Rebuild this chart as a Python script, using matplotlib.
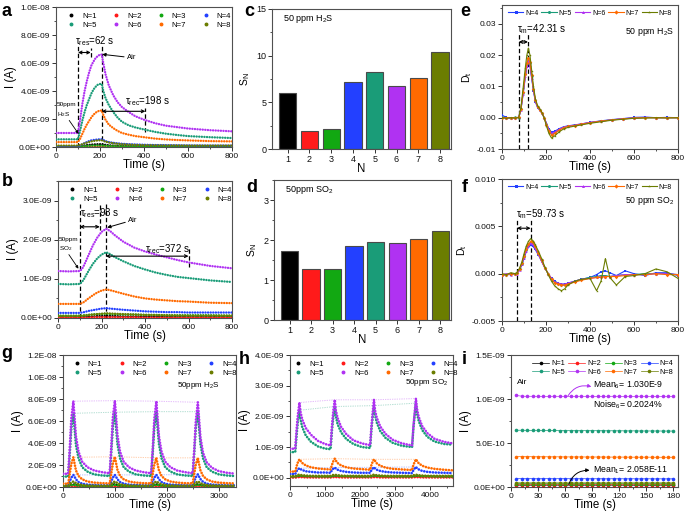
import numpy as np
import matplotlib
matplotlib.use('Agg')
import matplotlib.pyplot as plt
from matplotlib.ticker import FuncFormatter, MultipleLocator
from matplotlib.lines import Line2D

plt.rcParams['font.family'] = ['Liberation Sans', 'DejaVu Sans']
plt.rcParams['mathtext.fontset'] = 'custom'
plt.rcParams['mathtext.rm'] = 'Liberation Sans'
plt.rcParams['mathtext.it'] = 'Liberation Sans:italic'
plt.rcParams['mathtext.bf'] = 'Liberation Sans:bold'

# ---------------- data ----------------
labels_N = ['N=1', 'N=2', 'N=3', 'N=4', 'N=5', 'N=6', 'N=7', 'N=8']
colors = ['#000000', '#ff1a1a', '#12a812', '#2340ff', '#1a9c78', '#b032f2', '#ff6a00', '#6b7d00']

# panel a: H2S response (units 1e-9 A)
t_a = [0, 50, 100, 110, 120, 130, 140, 150, 160, 170, 180, 190, 200, 208, 215, 225, 240, 260, 280, 300,
       330, 360, 400, 450, 500, 550, 600, 700, 800]
a_N1 = [0.03, 0.03, 0.03, 0.05, 0.08, 0.11, 0.13, 0.15, 0.17, 0.18, 0.19, 0.2, 0.2, 0.2, 0.18, 0.15, 0.12, 0.1,
        0.08, 0.07, 0.06, 0.05, 0.05, 0.04, 0.04, 0.04, 0.04, 0.04, 0.04]
a_N2 = [0.01, 0.01, 0.01, 0.02, 0.03, 0.03, 0.04, 0.04, 0.05, 0.05, 0.05, 0.05, 0.05, 0.05, 0.05, 0.04, 0.04, 0.03,
        0.03, 0.02, 0.02, 0.02, 0.02, 0.02, 0.01, 0.01, 0.01, 0.01, 0.01]
a_N3 = [0.02, 0.02, 0.02, 0.03, 0.05, 0.06, 0.07, 0.08, 0.09, 0.1, 0.1, 0.1, 0.1, 0.1, 0.09, 0.08, 0.07, 0.06,
        0.05, 0.05, 0.04, 0.04, 0.03, 0.03, 0.03, 0.03, 0.03, 0.03, 0.03]
a_N4 = [0.05, 0.05, 0.05, 0.12, 0.2, 0.28, 0.35, 0.42, 0.47, 0.5, 0.52, 0.54, 0.55, 0.55, 0.5, 0.42, 0.35, 0.3,
        0.26, 0.23, 0.2, 0.18, 0.16, 0.14, 0.13, 0.12, 0.11, 0.1, 0.1]
a_N5 = [0.55, 0.55, 0.55, 1.2, 1.9, 2.5, 3.0, 3.4, 3.8, 4.1, 4.3, 4.45, 4.5, 4.5, 4.0, 3.5, 3.0, 2.5,
        2.1, 1.8, 1.55, 1.4, 1.25, 1.08, 0.95, 0.86, 0.78, 0.7, 0.64]
a_N6 = [1.0, 1.0, 1.0, 2.0, 3.1, 4.0, 4.7, 5.3, 5.8, 6.1, 6.35, 6.5, 6.6, 6.6, 6.0, 5.2, 4.4, 3.7,
        3.2, 2.85, 2.5, 2.2, 1.95, 1.7, 1.52, 1.42, 1.32, 1.2, 1.12]
a_N7 = [0.35, 0.35, 0.35, 0.6, 0.95, 1.3, 1.6, 1.85, 2.1, 2.3, 2.45, 2.55, 2.6, 2.6, 2.3, 1.95, 1.6, 1.35,
        1.15, 1.0, 0.88, 0.78, 0.7, 0.6, 0.54, 0.5, 0.47, 0.42, 0.4]
a_N8 = [0.1, 0.1, 0.1, 0.15, 0.2, 0.26, 0.31, 0.36, 0.4, 0.43, 0.45, 0.47, 0.48, 0.48, 0.44, 0.38, 0.32, 0.27,
        0.23, 0.2, 0.17, 0.15, 0.13, 0.12, 0.11, 0.11, 0.1, 0.1, 0.1]

# panel b: SO2 response (units 1e-9 A)
t_b = [0, 50, 100, 110, 120, 140, 160, 180, 200, 222, 240, 260, 300, 350, 400, 450, 500, 550, 600, 700, 800]
b_N1 = [0.03, 0.03, 0.03, 0.03, 0.03, 0.04, 0.04, 0.05, 0.05, 0.05, 0.05, 0.05, 0.04, 0.04, 0.04, 0.04, 0.03, 0.03, 0.03, 0.03, 0.03]
b_N2 = [0.01, 0.01, 0.01, 0.01, 0.01, 0.01, 0.02, 0.02, 0.02, 0.02, 0.02, 0.02, 0.02, 0.02, 0.01, 0.01, 0.01, 0.01, 0.01, 0.01, 0.01]
b_N3 = [0.06, 0.06, 0.06, 0.06, 0.07, 0.08, 0.09, 0.1, 0.1, 0.11, 0.1, 0.1, 0.09, 0.09, 0.08, 0.08, 0.07, 0.07, 0.07, 0.07, 0.06]
b_N4 = [0.13, 0.13, 0.13, 0.14, 0.15, 0.18, 0.2, 0.22, 0.24, 0.25, 0.24, 0.23, 0.21, 0.19, 0.17, 0.16, 0.15, 0.15, 0.14, 0.14, 0.14]
b_N5 = [0.87, 0.86, 0.87, 0.92, 1.0, 1.2, 1.38, 1.52, 1.62, 1.68, 1.63, 1.56, 1.45, 1.33, 1.24, 1.16, 1.1, 1.05, 1.02, 0.96, 0.92]
b_N6 = [1.2, 1.19, 1.2, 1.25, 1.35, 1.6, 1.85, 2.05, 2.2, 2.28, 2.22, 2.12, 1.95, 1.8, 1.7, 1.62, 1.55, 1.48, 1.42, 1.33, 1.27]
b_N7 = [0.36, 0.36, 0.36, 0.38, 0.41, 0.5, 0.58, 0.65, 0.7, 0.73, 0.71, 0.68, 0.62, 0.55, 0.5, 0.47, 0.45, 0.43, 0.42, 0.39, 0.38]
b_N8 = [0.05, 0.05, 0.05, 0.055, 0.06, 0.08, 0.09, 0.1, 0.11, 0.12, 0.115, 0.11, 0.1, 0.09, 0.08, 0.075, 0.07, 0.065, 0.06, 0.06, 0.06]

# panels c, d: sensitivity
N_vals = [1, 2, 3, 4, 5, 6, 7, 8]
S_H2S = [6.0, 1.9, 2.15, 7.2, 8.25, 6.75, 7.6, 10.4]
S_SO2 = [1.73, 1.27, 1.28, 1.86, 1.96, 1.93, 2.03, 2.23]

# panel e: Dt for H2S
t_e = [0, 20, 40, 60, 76, 86, 96, 106, 113, 120, 127, 135, 143, 152, 162, 172, 182, 192, 202, 213, 225, 240,
       260, 280, 300, 330, 360, 400, 450, 500, 550, 600, 650, 700, 750, 800]
e_N4 = [0.0008, 0.0001, -0.0002, 0.0, 0.0001, 0.0025, 0.0075, 0.0130, 0.0162, 0.0178, 0.0165, 0.0125, 0.0085,
        0.0050, 0.0032, 0.0024, 0.0014, 0.0000, -0.0018, -0.0036, -0.0046, -0.0043, -0.0035, -0.0029, -0.0026,
        -0.0023, -0.0020, -0.0015, -0.0010, -0.0006, -0.0003, 0.0001, 0.0002, 0.0000, 0.0001, 0.0000]
e_N5 = [0.0002, 0.0000, -0.0001, 0.0001, 0.0000, 0.0028, 0.0080, 0.0138, 0.0172, 0.0190, 0.0175, 0.0132, 0.0090,
        0.0054, 0.0034, 0.0025, 0.0015, 0.0000, -0.0020, -0.0040, -0.0052, -0.0048, -0.0038, -0.0031, -0.0027,
        -0.0024, -0.0021, -0.0016, -0.0011, -0.0007, -0.0004, -0.0001, 0.0000, 0.0000, 0.0000, 0.0000]
e_N6 = [0.0001, -0.0001, 0.0000, 0.0000, 0.0001, 0.0026, 0.0076, 0.0132, 0.0165, 0.0180, 0.0168, 0.0128, 0.0088,
        0.0052, 0.0033, 0.0024, 0.0014, 0.0000, -0.0019, -0.0038, -0.0050, -0.0046, -0.0037, -0.0030, -0.0027,
        -0.0024, -0.0020, -0.0015, -0.0011, -0.0007, -0.0003, -0.0001, 0.0001, 0.0000, 0.0000, 0.0000]
e_N7 = [0.0000, 0.0000, 0.0000, 0.0000, 0.0001, 0.0028, 0.0082, 0.0140, 0.0175, 0.0192, 0.0178, 0.0135, 0.0092,
        0.0055, 0.0035, 0.0026, 0.0015, -0.0001, -0.0022, -0.0043, -0.0055, -0.0050, -0.0040, -0.0032, -0.0028,
        -0.0025, -0.0021, -0.0016, -0.0011, -0.0007, -0.0004, -0.0001, 0.0000, 0.0000, 0.0000, 0.0000]
e_N8 = [0.0000, -0.0002, 0.0000, -0.0001, 0.0000, 0.0032, 0.0095, 0.0160, 0.0200, 0.0222, 0.0200, 0.0150, 0.0100,
        0.0060, 0.0038, 0.0028, 0.0016, -0.0002, -0.0026, -0.0050, -0.0065, -0.0058, -0.0045, -0.0036, -0.0031,
        -0.0027, -0.0023, -0.0018, -0.0013, -0.0008, -0.0005, -0.0002, -0.0001, 0.0000, -0.0001, 0.0000]

# panel f: Dt for SO2
t_f = [0, 20, 40, 60, 68, 80, 90, 100, 110, 120, 130, 140, 150, 165, 180, 195, 210, 225, 240, 255, 270, 285,
       300, 330, 360, 400, 430, 450, 470, 490, 520, 560, 600, 650, 700, 750, 800]
f_N4 = [-0.0002, -0.0001, -0.0001, 0.0000, 0.0000, 0.0004, 0.0009, 0.0016, 0.0023, 0.0028, 0.0030, 0.0029, 0.0026,
        0.0020, 0.0013, 0.0006, 0.0000, -0.0005, -0.0008, -0.0010, -0.0011, -0.0011, -0.0010, -0.0008, -0.0006,
        -0.0004, -0.0001, 0.0002, 0.0003, 0.0001, -0.0002, 0.0003, 0.0000, -0.0002, 0.0001, 0.0001, -0.0002]
f_N5 = [-0.0001, -0.0001, 0.0000, 0.0000, 0.0001, 0.0005, 0.0010, 0.0018, 0.0025, 0.0030, 0.0033, 0.0032, 0.0028,
        0.0021, 0.0014, 0.0006, 0.0000, -0.0006, -0.0009, -0.0011, -0.0012, -0.0012, -0.0011, -0.0008, -0.0006,
        -0.0004, -0.0003, -0.0002, -0.0002, -0.0003, -0.0002, -0.0001, -0.0001, 0.0000, 0.0000, 0.0000, -0.0001]
f_N6 = [-0.0001, 0.0000, -0.0001, 0.0000, 0.0000, 0.0004, 0.0010, 0.0017, 0.0024, 0.0029, 0.0032, 0.0031, 0.0027,
        0.0021, 0.0013, 0.0006, 0.0000, -0.0005, -0.0009, -0.0010, -0.0011, -0.0011, -0.0010, -0.0008, -0.0006,
        -0.0005, -0.0004, -0.0003, -0.0003, -0.0003, -0.0002, -0.0001, -0.0001, -0.0001, 0.0000, 0.0000, -0.0001]
f_N7 = [-0.0001, -0.0001, 0.0000, 0.0000, 0.0001, 0.0005, 0.0011, 0.0019, 0.0026, 0.0031, 0.0034, 0.0033, 0.0029,
        0.0022, 0.0014, 0.0006, 0.0000, -0.0006, -0.0010, -0.0011, -0.0012, -0.0012, -0.0011, -0.0009, -0.0007,
        -0.0005, -0.0004, -0.0004, -0.0003, -0.0003, -0.0003, -0.0002, -0.0001, -0.0001, 0.0000, -0.0001, -0.0001]
f_N8 = [0.0000, -0.0001, 0.0001, 0.0000, 0.0001, 0.0006, 0.0012, 0.0021, 0.0029, 0.0034, 0.0037, 0.0035, 0.0031,
        0.0024, 0.0016, 0.0007, -0.0001, -0.0008, -0.0013, -0.0016, -0.0018, -0.0016, -0.0012, -0.0008, -0.0006,
        -0.0005, -0.0018, -0.0008, 0.0016, -0.0004, -0.0012, -0.0003, -0.0002, 0.0000, 0.0005, 0.0002, -0.0005]

# panel g: cycling H2S (units 1e-9 A)
t_g = [0, 100, 130, 160, 200, 220, 250, 300, 370, 470, 600, 750,
       900, 930, 960, 1000, 1020, 1050, 1100, 1170, 1270, 1400, 1550,
       1700, 1730, 1760, 1800, 1820, 1850, 1900, 1970, 2070, 2200, 2350,
       2500, 2530, 2560, 2600, 2620, 2650, 2700, 2770, 2870, 3000, 3150, 3300]
g_N1 = [0.05, 0.05, 0.12, 0.2, 0.25, 0.22, 0.17, 0.12, 0.09, 0.07, 0.06, 0.06,
        0.06, 0.12, 0.2, 0.25, 0.22, 0.17, 0.12, 0.09, 0.07, 0.06, 0.06,
        0.06, 0.12, 0.2, 0.25, 0.22, 0.17, 0.12, 0.09, 0.07, 0.06, 0.06,
        0.06, 0.12, 0.2, 0.25, 0.22, 0.17, 0.12, 0.09, 0.07, 0.06, 0.06, 0.06]
g_N2 = [0.02, 0.02, 0.03, 0.04, 0.05, 0.05, 0.04, 0.03, 0.03, 0.02, 0.02, 0.02,
        0.02, 0.03, 0.04, 0.05, 0.05, 0.04, 0.03, 0.03, 0.02, 0.02, 0.02,
        0.02, 0.03, 0.04, 0.05, 0.05, 0.04, 0.03, 0.03, 0.02, 0.02, 0.02,
        0.02, 0.03, 0.04, 0.05, 0.05, 0.04, 0.03, 0.03, 0.02, 0.02, 0.02, 0.02]
g_N3 = [0.08, 0.08, 0.12, 0.17, 0.2, 0.19, 0.16, 0.13, 0.11, 0.09, 0.09, 0.08,
        0.08, 0.12, 0.17, 0.2, 0.19, 0.16, 0.13, 0.11, 0.09, 0.09, 0.08,
        0.08, 0.12, 0.17, 0.2, 0.19, 0.16, 0.13, 0.11, 0.09, 0.09, 0.08,
        0.08, 0.12, 0.17, 0.2, 0.19, 0.16, 0.13, 0.11, 0.09, 0.09, 0.08, 0.08]
g_N4 = [0.12, 0.12, 0.5, 0.85, 1.1, 0.95, 0.7, 0.45, 0.3, 0.22, 0.18, 0.15,
        0.15, 0.5, 0.85, 1.1, 0.95, 0.7, 0.45, 0.3, 0.22, 0.18, 0.15,
        0.15, 0.5, 0.85, 1.1, 0.95, 0.7, 0.45, 0.3, 0.22, 0.18, 0.15,
        0.15, 0.52, 0.88, 1.15, 0.98, 0.72, 0.46, 0.3, 0.22, 0.18, 0.15, 0.15]
g_N5 = [0.95, 0.95, 3.0, 5.3, 6.7, 5.5, 3.8, 2.6, 1.8, 1.4, 1.15, 1.05,
        1.0, 3.1, 5.4, 6.8, 5.6, 3.9, 2.6, 1.8, 1.4, 1.15, 1.05,
        1.0, 3.1, 5.4, 6.85, 5.6, 3.9, 2.6, 1.8, 1.4, 1.15, 1.05,
        1.0, 3.1, 5.4, 6.85, 5.6, 3.9, 2.6, 1.8, 1.4, 1.15, 1.05, 1.0]
g_N6 = [1.2, 1.2, 3.5, 6.2, 7.8, 6.5, 4.6, 3.2, 2.3, 1.8, 1.5, 1.35,
        1.25, 3.6, 6.3, 7.85, 6.6, 4.7, 3.2, 2.3, 1.8, 1.5, 1.35,
        1.25, 3.5, 6.2, 7.8, 6.5, 4.6, 3.2, 2.3, 1.8, 1.5, 1.35,
        1.25, 3.4, 6.0, 7.7, 6.4, 4.5, 3.1, 2.25, 1.75, 1.45, 1.3, 1.22]
g_N7 = [0.3, 0.3, 1.2, 2.1, 2.7, 2.2, 1.5, 1.0, 0.7, 0.5, 0.4, 0.35,
        0.33, 1.2, 2.1, 2.75, 2.25, 1.55, 1.0, 0.7, 0.5, 0.4, 0.35,
        0.33, 1.2, 2.05, 2.65, 2.15, 1.5, 1.0, 0.7, 0.5, 0.4, 0.35,
        0.33, 1.2, 2.05, 2.65, 2.15, 1.5, 1.0, 0.7, 0.5, 0.4, 0.35, 0.33]
g_N8 = [0.1, 0.1, 0.25, 0.4, 0.5, 0.45, 0.35, 0.25, 0.18, 0.14, 0.12, 0.11,
        0.11, 0.25, 0.4, 0.5, 0.45, 0.35, 0.25, 0.18, 0.14, 0.12, 0.11,
        0.11, 0.25, 0.4, 0.5, 0.45, 0.35, 0.25, 0.18, 0.14, 0.12, 0.11,
        0.11, 0.25, 0.4, 0.5, 0.45, 0.35, 0.25, 0.18, 0.14, 0.12, 0.11, 0.11]
g_peak_times = [200, 1000, 1800, 2600]

# panel h: cycling SO2 (units 1e-9 A)
t_h = [0, 150, 190, 230, 270, 300, 350, 450, 600, 800, 1000,
       1160, 1200, 1240, 1280, 1310, 1360, 1460, 1610, 1810, 2050,
       2290, 2330, 2370, 2400, 2430, 2480, 2580, 2730, 2930, 3200,
       3490, 3530, 3570, 3600, 3630, 3680, 3780, 3930, 4130, 4400, 4650]
h_N1 = [0.02, 0.02, 0.03, 0.04, 0.05, 0.05, 0.04, 0.04, 0.03, 0.03, 0.03,
        0.03, 0.04, 0.05, 0.05, 0.05, 0.04, 0.04, 0.03, 0.03, 0.03,
        0.03, 0.04, 0.05, 0.05, 0.05, 0.04, 0.04, 0.03, 0.03, 0.03,
        0.03, 0.04, 0.05, 0.05, 0.05, 0.04, 0.04, 0.03, 0.03, 0.03, 0.03]
h_N2 = [0.01, 0.01, 0.01, 0.02, 0.02, 0.02, 0.02, 0.01, 0.01, 0.01, 0.01,
        0.01, 0.01, 0.02, 0.02, 0.02, 0.02, 0.01, 0.01, 0.01, 0.01,
        0.01, 0.01, 0.02, 0.02, 0.02, 0.02, 0.01, 0.01, 0.01, 0.01,
        0.01, 0.01, 0.02, 0.02, 0.02, 0.02, 0.01, 0.01, 0.01, 0.01, 0.01]
h_N3 = [0.04, 0.04, 0.05, 0.06, 0.07, 0.07, 0.06, 0.05, 0.05, 0.04, 0.04,
        0.04, 0.05, 0.06, 0.07, 0.07, 0.06, 0.05, 0.05, 0.04, 0.04,
        0.04, 0.05, 0.06, 0.07, 0.07, 0.06, 0.05, 0.05, 0.04, 0.04,
        0.04, 0.05, 0.06, 0.07, 0.07, 0.06, 0.05, 0.05, 0.04, 0.04, 0.04]
h_N4 = [0.12, 0.12, 0.22, 0.28, 0.31, 0.28, 0.25, 0.21, 0.19, 0.17, 0.17,
        0.16, 0.25, 0.3, 0.33, 0.3, 0.26, 0.22, 0.19, 0.17, 0.16,
        0.16, 0.25, 0.31, 0.34, 0.3, 0.26, 0.22, 0.19, 0.17, 0.16,
        0.15, 0.25, 0.31, 0.35, 0.31, 0.27, 0.22, 0.19, 0.17, 0.16, 0.15]
h_N5 = [0.83, 0.84, 1.4, 1.9, 2.2, 1.9, 1.65, 1.38, 1.17, 1.02, 0.95,
        0.93, 1.55, 2.0, 2.32, 2.0, 1.75, 1.48, 1.26, 1.1, 1.0,
        0.97, 1.6, 2.05, 2.35, 2.05, 1.8, 1.52, 1.3, 1.14, 1.04,
        1.0, 1.65, 2.1, 2.43, 2.1, 1.85, 1.55, 1.33, 1.18, 1.1, 1.08]
h_N6 = [0.94, 0.95, 1.6, 2.1, 2.45, 2.15, 1.9, 1.62, 1.4, 1.2, 1.1,
        1.05, 1.7, 2.2, 2.54, 2.2, 1.95, 1.66, 1.42, 1.22, 1.12,
        1.06, 1.7, 2.2, 2.54, 2.2, 1.96, 1.67, 1.43, 1.24, 1.12,
        1.05, 1.7, 2.2, 2.58, 2.25, 1.98, 1.68, 1.45, 1.27, 1.17, 1.12]
h_N7 = [0.2, 0.2, 0.38, 0.52, 0.6, 0.55, 0.48, 0.4, 0.34, 0.3, 0.28,
        0.27, 0.42, 0.54, 0.62, 0.56, 0.48, 0.4, 0.34, 0.3, 0.28,
        0.26, 0.42, 0.54, 0.6, 0.55, 0.47, 0.39, 0.33, 0.29, 0.27,
        0.25, 0.42, 0.53, 0.6, 0.55, 0.47, 0.39, 0.33, 0.29, 0.26, 0.24]
h_N8 = [0.05, 0.05, 0.07, 0.09, 0.1, 0.09, 0.08, 0.07, 0.06, 0.06, 0.06,
        0.06, 0.08, 0.09, 0.1, 0.09, 0.08, 0.07, 0.06, 0.06, 0.06,
        0.06, 0.08, 0.09, 0.1, 0.09, 0.08, 0.07, 0.06, 0.06, 0.06,
        0.06, 0.08, 0.09, 0.1, 0.09, 0.08, 0.07, 0.06, 0.06, 0.06, 0.06]
h_peak_times = [270, 1280, 2400, 3600]

# panel i: baseline noise in air (units 1e-9 A)
t_i = [6, 12, 18, 24, 30, 36, 42, 48, 54, 60, 66, 72, 78, 84, 90, 96, 102, 108, 114, 120,
       126, 132, 138, 144, 150, 156, 162, 168, 174, 180]
i_N1 = [0.021, 0.021, 0.020, 0.021, 0.021, 0.020, 0.021, 0.021, 0.021, 0.020, 0.021, 0.021, 0.020, 0.021, 0.021,
        0.020, 0.021, 0.021, 0.021, 0.020, 0.021, 0.021, 0.020, 0.021, 0.021, 0.020, 0.021, 0.021, 0.020, 0.021]
i_N2 = [0.027, 0.027, 0.026, 0.027, 0.027, 0.026, 0.027, 0.027, 0.026, 0.027, 0.027, 0.026, 0.027, 0.027, 0.026,
        0.027, 0.027, 0.026, 0.027, 0.027, 0.026, 0.027, 0.027, 0.026, 0.027, 0.027, 0.026, 0.027, 0.027, 0.026]
i_N3 = [0.038, 0.038, 0.037, 0.038, 0.038, 0.037, 0.038, 0.038, 0.037, 0.038, 0.038, 0.037, 0.038, 0.038, 0.037,
        0.038, 0.038, 0.037, 0.038, 0.038, 0.037, 0.038, 0.038, 0.037, 0.038, 0.038, 0.037, 0.038, 0.038, 0.037]
i_N4 = [0.096, 0.095, 0.095, 0.095, 0.094, 0.095, 0.095, 0.094, 0.095, 0.095, 0.094, 0.094, 0.095, 0.094, 0.094,
        0.094, 0.094, 0.093, 0.094, 0.094, 0.093, 0.094, 0.093, 0.093, 0.094, 0.093, 0.093, 0.093, 0.093, 0.093]
i_N5 = [0.645, 0.645, 0.644, 0.644, 0.644, 0.643, 0.643, 0.643, 0.642, 0.642, 0.642, 0.641, 0.641, 0.641, 0.640,
        0.640, 0.640, 0.639, 0.639, 0.639, 0.638, 0.638, 0.638, 0.637, 0.637, 0.637, 0.637, 0.636, 0.636, 0.636]
i_N6 = [1.040, 1.032, 1.030, 1.031, 1.030, 1.029, 1.030, 1.031, 1.030, 1.030, 1.029, 1.030, 1.031, 1.030, 1.030,
        1.029, 1.030, 1.030, 1.031, 1.030, 1.029, 1.030, 1.030, 1.031, 1.030, 1.029, 1.030, 1.030, 1.030, 1.029]
i_N7 = [0.345, 0.345, 0.345, 0.344, 0.344, 0.344, 0.343, 0.343, 0.343, 0.342, 0.342, 0.342, 0.342, 0.341, 0.341,
        0.341, 0.341, 0.340, 0.340, 0.340, 0.340, 0.339, 0.339, 0.339, 0.339, 0.339, 0.338, 0.338, 0.338, 0.338]
i_N8 = [0.048, 0.048, 0.047, 0.048, 0.048, 0.047, 0.048, 0.048, 0.047, 0.048, 0.048, 0.047, 0.048, 0.048, 0.047,
        0.048, 0.048, 0.047, 0.048, 0.048, 0.047, 0.048, 0.048, 0.047, 0.048, 0.048, 0.047, 0.048, 0.048, 0.047]

# ---------------- figure ----------------
W, H = 688, 516
fig = plt.figure(figsize=(W / 100, H / 100), dpi=100)

def ax_px(l, t, r, b):
    return fig.add_axes([l / W, 1 - b / H, (r - l) / W, (b - t) / H])

SPINE = '#505050'
TICK_FS = 6.0
LABEL_FS = 8.3

def style(ax):
    for s in ax.spines.values():
        s.set_color(SPINE)
        s.set_linewidth(0.8)
    ax.tick_params(which='major', direction='out', length=3, width=0.7, labelsize=TICK_FS,
                   colors='#333333', labelcolor='#111111', pad=1.2, top=False, right=False)
    ax.tick_params(which='minor', direction='out', length=1.7, width=0.6, colors='#333333',
                   top=False, right=False)

sci = FuncFormatter(lambda v, p: f"{v:.1E}")
scale = 1e-9

def dot_plot(ax, t, ys, lw=1.7):
    for y, c in zip(ys, colors):
        ax.plot(t, np.array(y) * scale, color=c, lw=lw, ls=(0, (0.05, 1.05)),
                dash_capstyle='round', zorder=3)

def dot_legend(ax, x=0.53):
    order = [0, 4, 1, 5, 2, 6, 3, 7]
    hs = [Line2D([], [], ls='none', marker='o', ms=1.8, color=colors[k]) for k in order]
    ax.legend(hs, [labels_N[k] for k in order], ncol=4, loc='upper center', bbox_to_anchor=(x, 1.0),
              frameon=False, fontsize=5.6, handlelength=1.0, handletextpad=0.9, columnspacing=2.0,
              labelspacing=0.25, borderaxespad=0.25)

def panel_letter(x, y, s):
    fig.text(x / W, 1 - y / H, s, fontsize=13, fontweight='bold', ha='left', va='center')

def xlab(ax, s):
    ax.set_xlabel(s, fontsize=LABEL_FS, labelpad=-0.5)

arrow_kw = dict(arrowstyle='<->', lw=0.8, color='k', mutation_scale=5, shrinkA=0, shrinkB=0)
dash_kw = dict(color='k', lw=0.9, ls=(0, (3.5, 2.0)))

# ---- a ----
ax = ax_px(56, 7, 232, 147)
style(ax)
dot_plot(ax, t_a, [a_N1, a_N2, a_N3, a_N4, a_N5, a_N6, a_N7, a_N8])
ax.set_xlim(0, 800)
ax.set_ylim(0, 1e-8)
ax.xaxis.set_major_locator(MultipleLocator(200))
ax.xaxis.set_minor_locator(MultipleLocator(100))
ax.yaxis.set_major_locator(MultipleLocator(2e-9))
ax.yaxis.set_minor_locator(MultipleLocator(1e-9))
ax.yaxis.set_major_formatter(sci)
xlab(ax, 'Time (s)')
ax.set_ylabel('I (A)', fontsize=LABEL_FS, labelpad=1)
dot_legend(ax)
ax.plot([100, 100], [0, 7.2e-9], **dash_kw)
ax.plot([208, 208], [0, 7.2e-9], **dash_kw)
ax.plot([158, 158], [6.4e-9, 7.1e-9], **dash_kw)
ax.annotate('', xy=(100, 6.75e-9), xytext=(158, 6.75e-9), arrowprops=arrow_kw)
ax.text(88, 7.55e-9, r'τ$_{\mathrm{res}}$=62 s', fontsize=7, va='center', ha='left')
ax.annotate('Air', xy=(210, 6.62e-9), xytext=(322, 6.38e-9), fontsize=5.5, va='center', ha='left',
            arrowprops=dict(arrowstyle='-|>', lw=0.7, color='k', mutation_scale=5, shrinkA=0, shrinkB=0))
ax.annotate('', xy=(208, 2.55e-9), xytext=(406, 2.55e-9), arrowprops=arrow_kw)
ax.plot([406, 406], [1.1e-9, 2.8e-9], **dash_kw)
ax.text(312, 3.25e-9, r'τ$_{\mathrm{rec}}$=198 s', fontsize=7, va='center', ha='left')
ax.text(4, 2.6e-9, '50ppm\nH$_2$S', fontsize=4.6, va='center', ha='left', linespacing=1.4)
ax.annotate('', xy=(102, 0.95e-9), xytext=(60, 1.9e-9),
            arrowprops=dict(arrowstyle='-|>', lw=0.6, color='k', mutation_scale=4, shrinkA=0, shrinkB=0))

# ---- b ----
ax = ax_px(58, 181, 232, 318)
style(ax)
dot_plot(ax, t_b, [b_N1, b_N2, b_N3, b_N4, b_N5, b_N6, b_N7, b_N8])
ax.set_xlim(0, 800)
ax.set_ylim(0, 3.5e-9)
ax.xaxis.set_major_locator(MultipleLocator(200))
ax.xaxis.set_minor_locator(MultipleLocator(100))
ax.yaxis.set_major_locator(MultipleLocator(1e-9))
ax.yaxis.set_minor_locator(MultipleLocator(0.5e-9))
ax.yaxis.set_major_formatter(sci)
xlab(ax, 'Time (s)')
ax.set_ylabel('I (A)', fontsize=LABEL_FS, labelpad=1)
dot_legend(ax)
ax.plot([100, 100], [0, 2.92e-9], **dash_kw)
ax.plot([220, 220], [0, 2.92e-9], **dash_kw)
ax.plot([192, 192], [2.25e-9, 2.92e-9], **dash_kw)
ax.annotate('', xy=(100, 2.33e-9), xytext=(192, 2.33e-9), arrowprops=arrow_kw)
ax.text(103, 2.68e-9, r'τ$_{\mathrm{res}}$=98 s', fontsize=7, va='center', ha='left')
ax.annotate('Air', xy=(226, 2.31e-9), xytext=(322, 2.5e-9), fontsize=5.5, va='center', ha='left',
            arrowprops=dict(arrowstyle='-|>', lw=0.7, color='k', mutation_scale=5, shrinkA=0, shrinkB=0))
ax.annotate('', xy=(220, 1.58e-9), xytext=(600, 1.58e-9), arrowprops=arrow_kw)
ax.plot([600, 600], [1.3e-9, 1.8e-9], **dash_kw)
ax.text(398, 1.76e-9, r'τ$_{\mathrm{rec}}$=372 s', fontsize=7, va='center', ha='left')
ax.text(4, 1.87e-9, '50ppm\nSO$_2$', fontsize=4.6, va='center', ha='left', linespacing=1.4)
ax.annotate('', xy=(94, 1.26e-9), xytext=(50, 1.62e-9),
            arrowprops=dict(arrowstyle='-|>', lw=0.6, color='k', mutation_scale=4, shrinkA=0, shrinkB=0))

# ---- c ----
def bar_panel(ax, vals, ymax, major, minor, text):
    style(ax)
    ax.bar(N_vals, vals, width=0.8, color=colors, edgecolor='#4a4a4a', linewidth=0.8, zorder=2)
    ax.set_xlim(0.28, 8.5)
    ax.set_ylim(0, ymax)
    ax.set_xticks(N_vals)
    ax.tick_params(axis='both', labelsize=6.5)
    ax.yaxis.set_major_locator(MultipleLocator(major))
    ax.yaxis.set_minor_locator(MultipleLocator(minor))
    xlab(ax, 'N')
    ax.set_ylabel('S$_\\mathrm{N}$', fontsize=7.5, labelpad=3)
    ax.text(0.06, 0.93, text, transform=ax.transAxes, fontsize=6.5, va='center', ha='left')

ax = ax_px(272, 9, 451, 149)
bar_panel(ax, S_H2S, 15, 5, 2.5, '50 ppm H$_2$S')

# ---- d ----
ax = ax_px(274, 180, 451, 320)
bar_panel(ax, S_SO2, 3.5, 1, 0.5, '50ppm SO$_2$')

# ---- e / f ----
markers_ef = ['s', 'o', '^', 'D', '*']
def dt_panel(ax, t, ys):
    style(ax)
    for y, c, m, lab in zip(ys, colors[3:], markers_ef, labels_N[3:]):
        ax.plot(t, y, color=c, lw=0.8, marker=m, ms=1.8, mew=0, label=lab, zorder=3)
    ax.set_xlim(0, 800)
    ax.xaxis.set_major_locator(MultipleLocator(200))
    ax.xaxis.set_minor_locator(MultipleLocator(100))
    xlab(ax, 'Time (s)')
    ax.set_ylabel('D$_\\mathrm{t}$', fontsize=7.5, labelpad=2)
    ax.legend(ncol=5, loc='upper center', bbox_to_anchor=(0.5, 1.0), frameon=False, fontsize=5,
              handlelength=2.2, handletextpad=0.25, columnspacing=0.45, borderaxespad=0.3,
              markerscale=1.2)

ax = ax_px(502, 5, 678, 149)
dt_panel(ax, t_e, [e_N4, e_N5, e_N6, e_N7, e_N8])
ax.set_ylim(-0.01, 0.036)
ax.yaxis.set_major_locator(MultipleLocator(0.01))
ax.yaxis.set_minor_locator(MultipleLocator(0.005))
ax.yaxis.set_major_formatter(FuncFormatter(lambda v, p: f"{v:.2f}"))
ax.plot([76, 76], [-0.01, 0.027], **dash_kw)
ax.plot([118, 118], [-0.01, 0.027], **dash_kw)
ax.annotate('', xy=(76, 0.0242), xytext=(118, 0.0242), arrowprops=arrow_kw)
ax.text(66, 0.0283, r'τ$_{\mathrm{m}}$=42.31 s', fontsize=7, va='center', ha='left')
ax.text(780, 0.0275, '50 ppm H$_2$S', fontsize=6.3, va='center', ha='right')

ax = ax_px(502, 179, 678, 321)
dt_panel(ax, t_f, [f_N4, f_N5, f_N6, f_N7, f_N8])
ax.set_ylim(-0.005, 0.010)
ax.yaxis.set_major_locator(MultipleLocator(0.005))
ax.yaxis.set_minor_locator(MultipleLocator(0.0025))
ax.yaxis.set_major_formatter(FuncFormatter(lambda v, p: f"{v:.3f}"))
ax.plot([68, 68], [-0.005, 0.0057], **dash_kw)
ax.plot([130, 130], [-0.005, 0.0057], **dash_kw)
ax.annotate('', xy=(68, 0.0048), xytext=(130, 0.0048), arrowprops=arrow_kw)
ax.text(64, 0.0063, r'τ$_{\mathrm{m}}$=59.73 s', fontsize=7, va='center', ha='left')
ax.text(783, 0.0077, '50 ppm SO$_2$', fontsize=6.3, va='center', ha='right')

# ---- g ----
def ghost(ax, t, ys, peak_times, idx_list):
    for k in idx_list:
        pts = [ys[k][t.index(p)] * scale for p in peak_times]
        ax.plot(peak_times, pts, color=colors[k], lw=0.7, ls=(0, (0.6, 1.2)), alpha=0.55, zorder=2)

ax = ax_px(63, 355, 236, 487)
style(ax)
g_all = [g_N1, g_N2, g_N3, g_N4, g_N5, g_N6, g_N7, g_N8]
dot_plot(ax, t_g, g_all, lw=1.9)
ghost(ax, t_g, g_all, g_peak_times, [3, 4, 5, 6])
ax.set_xlim(0, 3335)
ax.set_ylim(0, 1.2e-8)
ax.xaxis.set_major_locator(MultipleLocator(1000))
ax.xaxis.set_minor_locator(MultipleLocator(500))
ax.yaxis.set_major_locator(MultipleLocator(2e-9))
ax.yaxis.set_minor_locator(MultipleLocator(1e-9))
ax.yaxis.set_major_formatter(sci)
xlab(ax, 'Time (s)')
ax.set_ylabel('I (A)', fontsize=LABEL_FS, labelpad=1)
dot_legend(ax)
ax.text(2190, 9.25e-9, '50ppm H$_2$S', fontsize=5.8, va='center', ha='left')

# ---- h ----
ax = ax_px(290, 355, 453, 486)
style(ax)
h_all = [h_N1, h_N2, h_N3, h_N4, h_N5, h_N6, h_N7, h_N8]
dot_plot(ax, t_h, h_all, lw=1.9)
ghost(ax, t_h, h_all, h_peak_times, [3, 4, 5, 6])
ax.set_xlim(0, 4660)
ax.set_ylim(-0.27e-9, 4e-9)
ax.xaxis.set_major_locator(MultipleLocator(1000))
ax.xaxis.set_minor_locator(MultipleLocator(500))
ax.yaxis.set_major_locator(MultipleLocator(1e-9))
ax.yaxis.set_minor_locator(MultipleLocator(0.5e-9))
ax.yaxis.set_major_formatter(sci)
xlab(ax, 'Time (s)')
ax.set_ylabel('I (A)', fontsize=LABEL_FS, labelpad=1)
dot_legend(ax)
ax.text(3290, 3.1e-9, '50ppm SO$_2$', fontsize=5.8, va='center', ha='left')

# ---- i ----
ax = ax_px(511, 355, 678, 487)
style(ax)
i_all = [i_N1, i_N2, i_N3, i_N4, i_N5, i_N6, i_N7, i_N8]
for y, c, lab in zip(i_all, colors, labels_N):
    ax.plot(t_i, np.array(y) * scale, color=c, lw=0.5, marker='o', ms=2.6, mew=0, label=lab, zorder=3)
ax.set_xlim(0, 185)
ax.set_ylim(0, 1.5e-9)
ax.xaxis.set_major_locator(MultipleLocator(30))
ax.xaxis.set_minor_locator(MultipleLocator(15))
ax.yaxis.set_major_locator(MultipleLocator(5e-10))
ax.yaxis.set_minor_locator(MultipleLocator(2.5e-10))
ax.yaxis.set_major_formatter(sci)
xlab(ax, 'Time (s)')
ax.set_ylabel('I (A)', fontsize=LABEL_FS, labelpad=1)
hs, ls_ = ax.get_legend_handles_labels()
order = [0, 4, 1, 5, 2, 6, 3, 7]
ax.legend([hs[k] for k in order], [ls_[k] for k in order], ncol=4, loc='upper center',
          bbox_to_anchor=(0.55, 1.0), frameon=False, fontsize=5.3, handlelength=2.3,
          handletextpad=0.25, columnspacing=0.5, labelspacing=0.2, borderaxespad=0.3)
ax.text(7, 1.19e-9, 'Air', fontsize=6, va='center', ha='left')
ax.text(91, 1.155e-9, 'Mean$_6$= 1.030E-9', fontsize=6.3, va='center', ha='left')
ax.text(91, 0.94e-9, 'Noise$_6$= 0.2024%', fontsize=6.3, va='center', ha='left')
ax.text(91, 0.19e-9, 'Mean$_1$= 2.058E-11', fontsize=6.3, va='center', ha='left')
ax.annotate('', xy=(89, 1.14e-9), xytext=(63, 1.035e-9),
            arrowprops=dict(arrowstyle='-|>', lw=0.7, color=colors[5], mutation_scale=5,
                            shrinkA=0, shrinkB=0, connectionstyle='arc3,rad=-0.35'))
ax.annotate('', xy=(87, 0.19e-9), xytext=(64, 0.03e-9),
            arrowprops=dict(arrowstyle='-|>', lw=0.7, color='k', mutation_scale=5,
                            shrinkA=0, shrinkB=0, connectionstyle='arc3,rad=-0.35'))

# panel letters
panel_letter(2, 11, 'a')
panel_letter(2, 181, 'b')
panel_letter(1, 354, 'g')
panel_letter(244, 11, 'c')
panel_letter(246, 187, 'd')
panel_letter(239, 359, 'h')
panel_letter(460, 11, 'e')
panel_letter(462, 188, 'f')
panel_letter(462, 359, 'i')

fig.savefig('out.png', dpi=100)
